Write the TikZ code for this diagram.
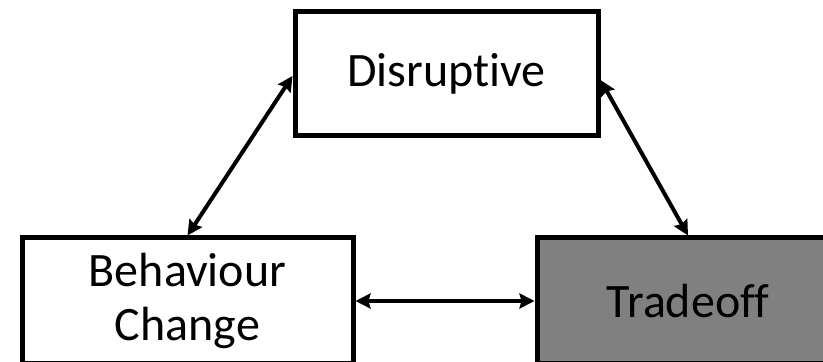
\documentclass[tikz,border=0pt]{standalone}
\usepackage{fontspec}
\setmainfont{Carlito}[Ligatures=NoCommon]
\usetikzlibrary{arrows.meta}

\begin{document}
\begin{tikzpicture}[x=0.5pt,y=0.5pt]
\tikzstyle{every node}+=[inner sep=0pt,font=\fontsize{24}{26.7}\selectfont]
\tikzstyle{box}=[draw=black,line width=2.5pt,align=center]
\tikzstyle{link}=[line width=2pt,{Stealth[length=7.5pt,width=7.5pt,inset=1pt]}-{Stealth[length=7.5pt,width=7.5pt,inset=1pt]}]
\useasboundingbox (0,0) rectangle (823,-362);
\clip (0,0) rectangle (823,-362);
% the three boxes
\node (disr) at (446.5,-74) [box,fill=white,minimum width=151.5pt,minimum height=62pt] {Disruptive};
\node (beh) at (187.5,-301) [box,fill=white,minimum width=165.5pt,minimum height=63pt] {Behaviour\\Change};
\node (trade) at (688,-301) [box,fill=gray,minimum width=151pt,minimum height=63pt] {Tradeoff};
% links
\draw [link] ([yshift=-1pt]disr.west) -- (beh.north);
\draw [link] ([yshift=-3pt]disr.east) -- (trade.north);
\draw [link] (beh.east) -- (trade.west);
\end{tikzpicture}
\end{document}
